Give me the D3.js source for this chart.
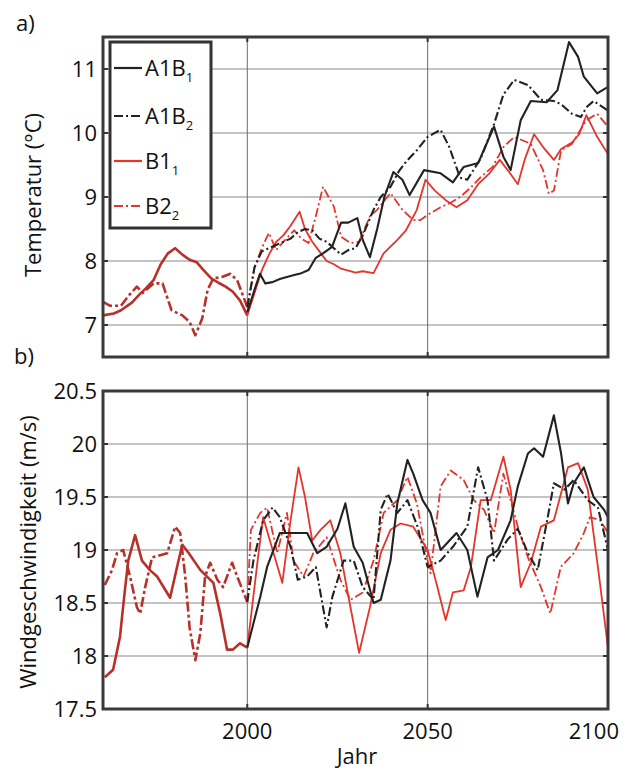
<!DOCTYPE html>
<html><head><meta charset="utf-8">
<script src="https://cdn.jsdelivr.net/npm/d3@7"></script>
<style>body{margin:0;background:#fff}svg{display:block}text{font-family:"Open Sans","Noto Sans",sans-serif;fill:#111}</style>
</head><body><svg id="c" width="629" height="771"></svg>
<script>
// ---------- DATA ----------
const xTicks = [2000, 2050, 2100];
const tempTicks = [7, 8, 9, 10, 11];
const windTicks = [17.5, 18, 18.5, 19, 19.5, 20, 20.5];
const windTickLabels = ["17.5", "18", "18.5", "19", "19.5", "20", "20.5"];
const legendNames = ["A1B|1", "A1B|2", "B1|1", "B2|2"];

// Temperature (°C)
const tB1Years = [1960,1963,1965,1968,1970,1972,1974,1976,1978,1980,1982,1984,1986,1988,1990,1992,1994,1996,1998,2000,2002,2004,2006,2008,2010,2012,2014.5,2016,2018,2020,2022,2024,2026,2028,2030,2032,2035,2037.8,2041.6,2044,2047,2049.4,2052,2055,2058,2061,2064,2067,2070,2073,2075,2077,2079.5,2082,2085,2087,2090,2092,2094,2097,2100];
const tB1 = [7.15,7.18,7.23,7.35,7.47,7.58,7.7,7.95,8.12,8.2,8.1,8.02,7.98,7.85,7.73,7.66,7.6,7.52,7.38,7.15,7.5,7.85,8.1,8.3,8.4,8.55,8.77,8.5,8.3,8.15,8.0,7.95,7.88,7.85,7.82,7.84,7.81,8.12,8.33,8.48,8.8,9.27,9.1,8.95,8.84,8.95,9.2,9.36,9.58,9.36,9.2,9.6,9.98,9.78,9.58,9.75,9.85,9.98,10.28,9.94,9.67];
const tB2Years = [1960,1962,1965,1967,1969.4,1971,1974,1976.5,1979,1982,1984,1985.6,1987.5,1989,1990.6,1993,1995.3,1997.2,2000,2002,2004,2006,2008,2010,2013,2015,2017,2019,2021,2024,2026,2028.6,2031,2034,2036,2039.7,2043,2046,2048,2050,2053.6,2056,2059,2062,2064.7,2068,2071,2074,2078.6,2082,2083.6,2085,2087,2090,2094,2097,2100];
const tB2 = [7.36,7.3,7.3,7.45,7.6,7.5,7.65,7.65,7.23,7.15,7.05,6.84,7.1,7.55,7.73,7.75,7.8,7.7,7.28,7.9,8.2,8.44,8.17,8.3,8.48,8.35,8.28,8.7,9.16,8.85,8.38,8.28,8.3,8.7,8.8,9.06,8.8,8.64,8.64,8.72,8.84,8.9,9.0,9.15,9.31,9.47,9.78,9.94,9.83,9.42,9.05,9.1,9.73,9.83,10.2,10.3,10.1];
const tA1Years = [2000,2002,2003.5,2005,2007,2009,2011,2013,2015,2017,2019,2021,2023.5,2026,2028,2030.5,2032,2034,2036,2038,2040.5,2043,2045,2049,2053.6,2057,2060,2064,2068.4,2071,2073,2075.8,2078.6,2083,2086,2089.2,2091.7,2093.3,2097,2100];
const tA1 = [7.2,7.55,7.8,7.65,7.67,7.72,7.75,7.78,7.81,7.86,8.05,8.12,8.22,8.6,8.6,8.67,8.33,8.06,8.5,9.0,9.39,9.27,9.03,9.42,9.37,9.23,9.47,9.53,10.1,9.63,9.42,10.2,10.5,10.48,10.67,11.42,11.19,10.88,10.62,10.72];
const tA2Years = [2000,2002,2004,2006,2008,2010,2012,2014,2016,2018,2020,2022,2024,2026,2028,2030,2032,2035,2037,2039.7,2042,2044,2047,2050,2053.6,2056,2059,2061,2064.7,2068.4,2071,2074,2077.8,2081.4,2085,2087,2090,2092.5,2094,2096,2100];
const tA2 = [7.28,7.9,8.15,8.2,8.25,8.3,8.35,8.45,8.5,8.48,8.35,8.3,8.2,8.1,8.17,8.2,8.4,8.8,9.0,9.16,9.4,9.55,9.73,9.94,10.05,9.78,9.3,9.27,9.6,10.14,10.6,10.83,10.75,10.52,10.5,10.45,10.3,10.25,10.4,10.5,10.35];

// Wind speed (m/s)
const wB1Years = [1960.5,1962.8,1964.7,1966,1967,1968.9,1970.8,1973,1975,1978.6,1980.8,1982,1983.8,1987,1990.6,1992.5,1994.4,1996,1998,2000,2002.8,2004.4,2007.3,2009.7,2012,2014.2,2016,2018,2020.3,2023,2025.8,2028.6,2031,2034,2037,2039.7,2042.5,2046,2050,2052.7,2055,2057,2060,2062,2064.7,2067.5,2071,2073,2075.8,2078.6,2081.4,2085,2088.9,2091.7,2094.4,2097.2,2100];
const wB1 = [17.8,17.87,18.18,18.6,18.9,19.14,18.9,18.81,18.75,18.55,18.88,19.05,18.97,18.81,18.69,18.4,18.06,18.06,18.12,18.08,18.88,19.31,18.97,18.69,19.28,19.78,19.5,19.09,19.19,19.28,18.97,18.46,18.03,18.46,18.97,19.19,19.25,19.22,19.0,18.65,18.34,18.6,18.62,18.84,19.47,19.47,19.88,19.57,18.65,18.88,19.22,19.28,19.78,19.82,19.57,18.84,18.08];
const wB2Years = [1960.5,1962.5,1963.9,1965.6,1967.5,1969.4,1970.3,1971.7,1973.6,1977.8,1980,1981.4,1982.8,1984,1985.6,1987,1988.3,1989.7,1991.7,1993.3,1995.8,1997.2,2000,2001,2003.6,2005.5,2008.3,2011,2012.8,2015.6,2018.3,2022,2025.8,2028.6,2032,2035,2037.8,2041.6,2044.4,2047,2050,2050.8,2053.6,2056.4,2060,2062.8,2065.6,2068.4,2071,2075,2077.8,2081.4,2084,2086.9,2090.5,2093.3,2095,2097.8,2100];
const wB2 = [18.67,18.81,18.97,19.0,18.75,18.46,18.4,18.65,18.93,18.97,19.22,19.16,18.75,18.27,17.96,18.22,18.75,18.88,18.72,18.65,18.88,18.75,18.51,19.19,19.35,19.4,18.97,19.35,18.9,18.75,18.97,19.12,18.72,18.53,18.6,18.9,19.35,19.47,19.69,19.44,18.9,18.78,19.6,19.75,19.66,19.47,19.38,19.16,19.72,19.22,18.93,18.65,18.4,18.84,18.97,19.16,19.31,19.28,19.16];
const wA1Years = [2000,2003.6,2005.5,2009,2012.8,2016.6,2019.4,2022,2025,2027.2,2029.5,2032,2035,2037,2039.7,2041.6,2044.4,2046,2048.6,2050.8,2053.6,2058,2061,2063.8,2066.6,2069.5,2073,2075,2077.8,2079.5,2082,2085,2087,2088.9,2090.5,2093.3,2096,2098.9,2100];
const wA1 = [18.08,18.56,18.84,19.16,19.16,19.16,18.97,19.03,19.2,19.44,19.03,18.88,18.5,18.53,18.9,19.44,19.85,19.72,19.47,19.35,19.0,19.16,19.0,18.56,18.93,19.0,19.28,19.6,19.91,19.96,19.88,20.27,19.91,19.44,19.63,19.78,19.5,19.38,19.31];
const wA2Years = [2000,2001.7,2004.4,2007,2009,2012,2014,2016.6,2019,2021,2022,2023.6,2026.7,2029.5,2032,2035,2037,2038.9,2041.6,2044.4,2047.2,2050,2053.6,2057,2061,2064,2066.6,2068.4,2072.2,2075,2077.8,2080.5,2083.3,2085,2088,2090.5,2094.4,2097.2,2100];
const wA2 = [18.51,18.9,19.28,19.4,19.31,19.03,18.72,18.75,18.84,18.46,18.27,18.56,18.9,18.9,18.65,18.53,19.38,19.53,19.35,19.47,19.22,18.84,18.9,19.03,19.22,19.78,19.47,18.9,19.1,19.2,18.97,18.81,19.31,19.63,19.57,19.66,19.47,19.4,19.0];

// ---------- DRAW ----------
const svg = d3.select("#c");
const L = 103, R = 608;
const FS = 22;
const x = d3.scaleLinear().domain([1960, 2100]).range([L, R]);
const BLACK = "#222", RED = "#e3352b", HIST = "#b8302a";
const DASHDOT = "9,3,2,3";

function zip(ys, vs) { return ys.map((y, i) => [y, vs[i]]); }

function panel(top, bottom, domain, ticks, tickLabels, series, showX) {
  const y = d3.scaleLinear().domain(domain).range([bottom, top]);
  const g = svg.append("g");
  g.selectAll(".hg").data(ticks.filter(t => t > domain[0] && t < domain[1])).join("line")
    .attr("x1", L).attr("x2", R).attr("y1", d => y(d)).attr("y2", d => y(d))
    .attr("stroke", "#c4c4c4").attr("stroke-width", 2);
  g.selectAll(".vg").data(xTicks.filter(t => t < 2100)).join("line")
    .attr("x1", d => x(d)).attr("x2", d => x(d)).attr("y1", top).attr("y2", bottom)
    .attr("stroke", "#6a6a6a").attr("stroke-width", 1);
  ticks.forEach(t => {
    g.append("line").attr("x1", L).attr("x2", L + 5).attr("y1", y(t)).attr("y2", y(t)).attr("stroke", "#333").attr("stroke-width", 2);
    g.append("line").attr("x1", R - 5).attr("x2", R).attr("y1", y(t)).attr("y2", y(t)).attr("stroke", "#333").attr("stroke-width", 2);
  });
  xTicks.forEach(t => {
    g.append("line").attr("x1", x(t)).attr("x2", x(t)).attr("y1", top).attr("y2", top + 5).attr("stroke", "#333").attr("stroke-width", 2);
    g.append("line").attr("x1", x(t)).attr("x2", x(t)).attr("y1", bottom - 5).attr("y2", bottom).attr("stroke", "#333").attr("stroke-width", 2);
  });
  const line = d3.line().x(d => x(d[0])).y(d => y(d[1]));
  series.forEach(s => {
    const pts = zip(s.years, s.vals);
    const hist = pts.filter(p => p[0] <= 2000);
    const fut = pts.filter(p => p[0] >= 2000);
    if (hist.length > 1) {
      g.append("path").attr("d", line(hist)).attr("fill", "none").attr("stroke", HIST)
        .attr("stroke-width", 2.6).attr("stroke-dasharray", s.dash ? "10,3,3,3" : null)
        .attr("stroke-linejoin", "round");
    }
    g.append("path").attr("d", line(fut)).attr("fill", "none").attr("stroke", s.color)
      .attr("stroke-width", s.color === BLACK ? 2.1 : 1.8).attr("stroke-dasharray", s.dash ? DASHDOT : null)
      .attr("stroke-linejoin", "round");
  });
  g.append("rect").attr("x", L).attr("y", top).attr("width", R - L).attr("height", bottom - top)
    .attr("fill", "none").attr("stroke", "#3a3a3a").attr("stroke-width", 3);
  g.selectAll(".yl").data(ticks).join("text")
    .attr("x", L - 6).attr("y", d => y(d)).attr("dy", "0.36em").attr("text-anchor", "end")
    .attr("font-size", FS).text((d, i) => tickLabels[i]);
  if (showX) {
    g.selectAll(".xl").data(xTicks).join("text")
      .attr("x", d => d === 2100 ? 619 : x(d)).attr("y", bottom + 30)
      .attr("text-anchor", d => d === 2100 ? "end" : "middle")
      .attr("font-size", FS).text(d => d);
  }
  return y;
}

panel(37, 357, [6.5, 11.5], tempTicks, tempTicks.map(String), [
  {years: tB2Years, vals: tB2, color: RED, dash: true},
  {years: tB1Years, vals: tB1, color: RED, dash: false},
  {years: tA2Years, vals: tA2, color: BLACK, dash: true},
  {years: tA1Years, vals: tA1, color: BLACK, dash: false}
], false);

panel(391, 709, [17.5, 20.5], windTicks, windTickLabels, [
  {years: wB2Years, vals: wB2, color: RED, dash: true},
  {years: wB1Years, vals: wB1, color: RED, dash: false},
  {years: wA2Years, vals: wA2, color: BLACK, dash: true},
  {years: wA1Years, vals: wA1, color: BLACK, dash: false}
], true);

// Legend
const lg = svg.append("g");
lg.append("rect").attr("x", 110).attr("y", 42).attr("width", 101).attr("height", 186)
  .attr("fill", "#fff").attr("stroke", "#333").attr("stroke-width", 3);
const legStyles = [{c: BLACK, d: null}, {c: BLACK, d: DASHDOT}, {c: RED, d: null}, {c: RED, d: DASHDOT}];
const legY = [68, 116, 161, 206];
legendNames.forEach((n, i) => {
  const [main, sub] = n.split("|");
  lg.append("line").attr("x1", 114).attr("x2", 142).attr("y1", legY[i]).attr("y2", legY[i])
    .attr("stroke", legStyles[i].c).attr("stroke-width", 2.2).attr("stroke-dasharray", legStyles[i].d);
  const t = lg.append("text").attr("x", 145).attr("y", legY[i]).attr("dy", "0.36em").attr("font-size", FS);
  t.append("tspan").text(main);
  t.append("tspan").attr("font-size", 13).attr("dy", 6).text(sub);
});

// Titles
svg.append("text").attr("transform", "translate(41,195) rotate(-90)").attr("text-anchor", "middle")
  .attr("font-size", FS).text("Temperatur (°C)");
svg.append("text").attr("transform", "translate(36,552) rotate(-90)").attr("text-anchor", "middle")
  .attr("font-size", FS).text("Windgeschwindigkeit (m/s)");
svg.append("text").attr("x", 357).attr("y", 764).attr("text-anchor", "middle").attr("font-size", FS).text("Jahr");
svg.append("text").attr("x", 16).attr("y", 31).attr("font-size", FS).text("a)");
svg.append("text").attr("x", 14).attr("y", 364).attr("font-size", FS).text("b)");
</script></body></html>
